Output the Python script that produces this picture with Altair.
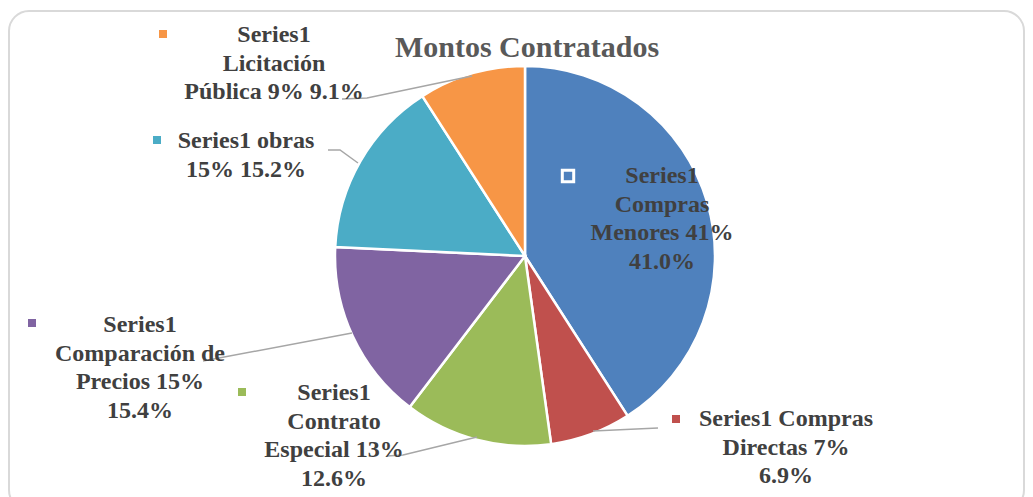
import altair as alt
import pandas as pd

# ---- data ----
categories = ["Compras Menores", "Compras Directas", "Contrato Especial",
              "Comparación de Precios", "obras", "Licitación Pública"]
pct_rounded = [41, 7, 13, 15, 15, 9]
pct_exact = [41.0, 6.9, 12.6, 15.4, 15.2, 9.1]
series_name = "Series1"
title_text = "Montos Contratados"

# ---- style ----
colors = ["#4F81BD", "#C0504D", "#9BBB59", "#8064A2", "#4BACC6", "#F79646"]
FONT = "Liberation Serif"
W, H = 1017, 489
M = 8  # page margin

# ---- layout (page pixels) ----
PIE_CX, PIE_CY, PIE_R = 525, 256, 190
wraps = [[1, 1, 2, 1], [2, 2, 1], [1, 1, 2, 1], [1, 2, 2, 1], [2, 2], [1, 1, 3]]
label_x = [662, 786, 334, 140, 246, 274]
label_y0 = [176, 419, 393, 325, 141, 35]
LINE_GAP = 28.7
marker_xy = [(568, 176), (676, 419), (242, 392), (32, 323), (157, 140), (163, 34)]
leaders = [[],
           [(593, 431), (658, 428)],
           [(387, 456), (403, 455), (477, 437)],
           [(203, 361), (352, 333)],
           [(328, 150), (340, 150), (358, 163)],
           [(342, 99), (367, 98), (472, 76)]]

color_scale = alt.Scale(domain=categories, range=colors)

# pie
pie_df = pd.DataFrame({"cat": categories, "value": pct_exact, "idx": list(range(len(categories)))})
pie = alt.Chart(pie_df).mark_arc(outerRadius=PIE_R, stroke="white", strokeWidth=2.5).encode(
    theta=alt.Theta("value:Q", stack=True),
    order=alt.Order("idx:Q"),
    color=alt.Color("cat:N", scale=color_scale, legend=None),
    x=alt.value(PIE_CX - M),
    y=alt.value(PIE_CY - M),
)

# labels
rows = []
for i, cat in enumerate(categories):
    words = f"{series_name} {cat} {pct_rounded[i]}% {pct_exact[i]:.1f}%".split()
    pos = 0
    for k, n in enumerate(wraps[i]):
        rows.append({"t": " ".join(words[pos:pos + n]),
                     "x": label_x[i] - M,
                     "y": label_y0[i] + k * LINE_GAP - M})
        pos += n
lab_df = pd.DataFrame(rows)
labels = alt.Chart(lab_df).mark_text(
    font=FONT, fontSize=24, fontWeight="bold", color="#404040",
    align="center", baseline="middle"
).encode(
    x=alt.X("x:Q", scale=None, axis=None),
    y=alt.Y("y:Q", scale=None, axis=None),
    text="t:N",
)

# markers
mk_df = pd.DataFrame({"cat": categories,
                      "x": [p[0] - M for p in marker_xy],
                      "y": [p[1] - M for p in marker_xy]})
markers = alt.Chart(mk_df).transform_filter(
    alt.datum.cat != categories[0]
).mark_square(size=64, opacity=1).encode(
    x=alt.X("x:Q", scale=None, axis=None),
    y=alt.Y("y:Q", scale=None, axis=None),
    color=alt.Color("cat:N", scale=color_scale, legend=None),
)
marker_first = alt.Chart(mk_df).transform_filter(
    alt.datum.cat == categories[0]
).mark_square(size=130, opacity=1, stroke="white", strokeWidth=3).encode(
    x=alt.X("x:Q", scale=None, axis=None),
    y=alt.Y("y:Q", scale=None, axis=None),
    fill=alt.Fill("cat:N", scale=color_scale, legend=None),
)

# leader lines
lrows = []
for i, pts in enumerate(leaders):
    for k, (px, py) in enumerate(pts):
        lrows.append({"id": i, "k": k, "x": px - M, "y": py - M})
lead_df = pd.DataFrame(lrows)
lead = alt.Chart(lead_df).mark_line(color="#A6A6A6", strokeWidth=1.5).encode(
    x=alt.X("x:Q", scale=None, axis=None),
    y=alt.Y("y:Q", scale=None, axis=None),
    detail="id:N",
    order="k:Q",
)

# title
title = alt.Chart(pd.DataFrame({"t": [title_text]})).mark_text(
    font=FONT, fontSize=30, fontWeight="bold", color="#595959",
    align="center", baseline="middle"
).encode(x=alt.value(527 - M), y=alt.value(48 - M), text="t:N")

# border
border = alt.Chart(pd.DataFrame({"a": [0]})).mark_rect(
    fillOpacity=0, stroke="#D9D9D9", strokeWidth=2, cornerRadius=20
).encode(x=alt.value(9 - M), x2=alt.value(1024 - M), y=alt.value(11 - M), y2=alt.value(510 - M))

chart = alt.layer(border, pie, lead, markers, marker_first, labels, title).properties(
    width=W, height=H, padding=0, autosize="none"
).configure_view(stroke=None)

chart.save("out.html", embed_options={"renderer": "svg", "actions": False})
